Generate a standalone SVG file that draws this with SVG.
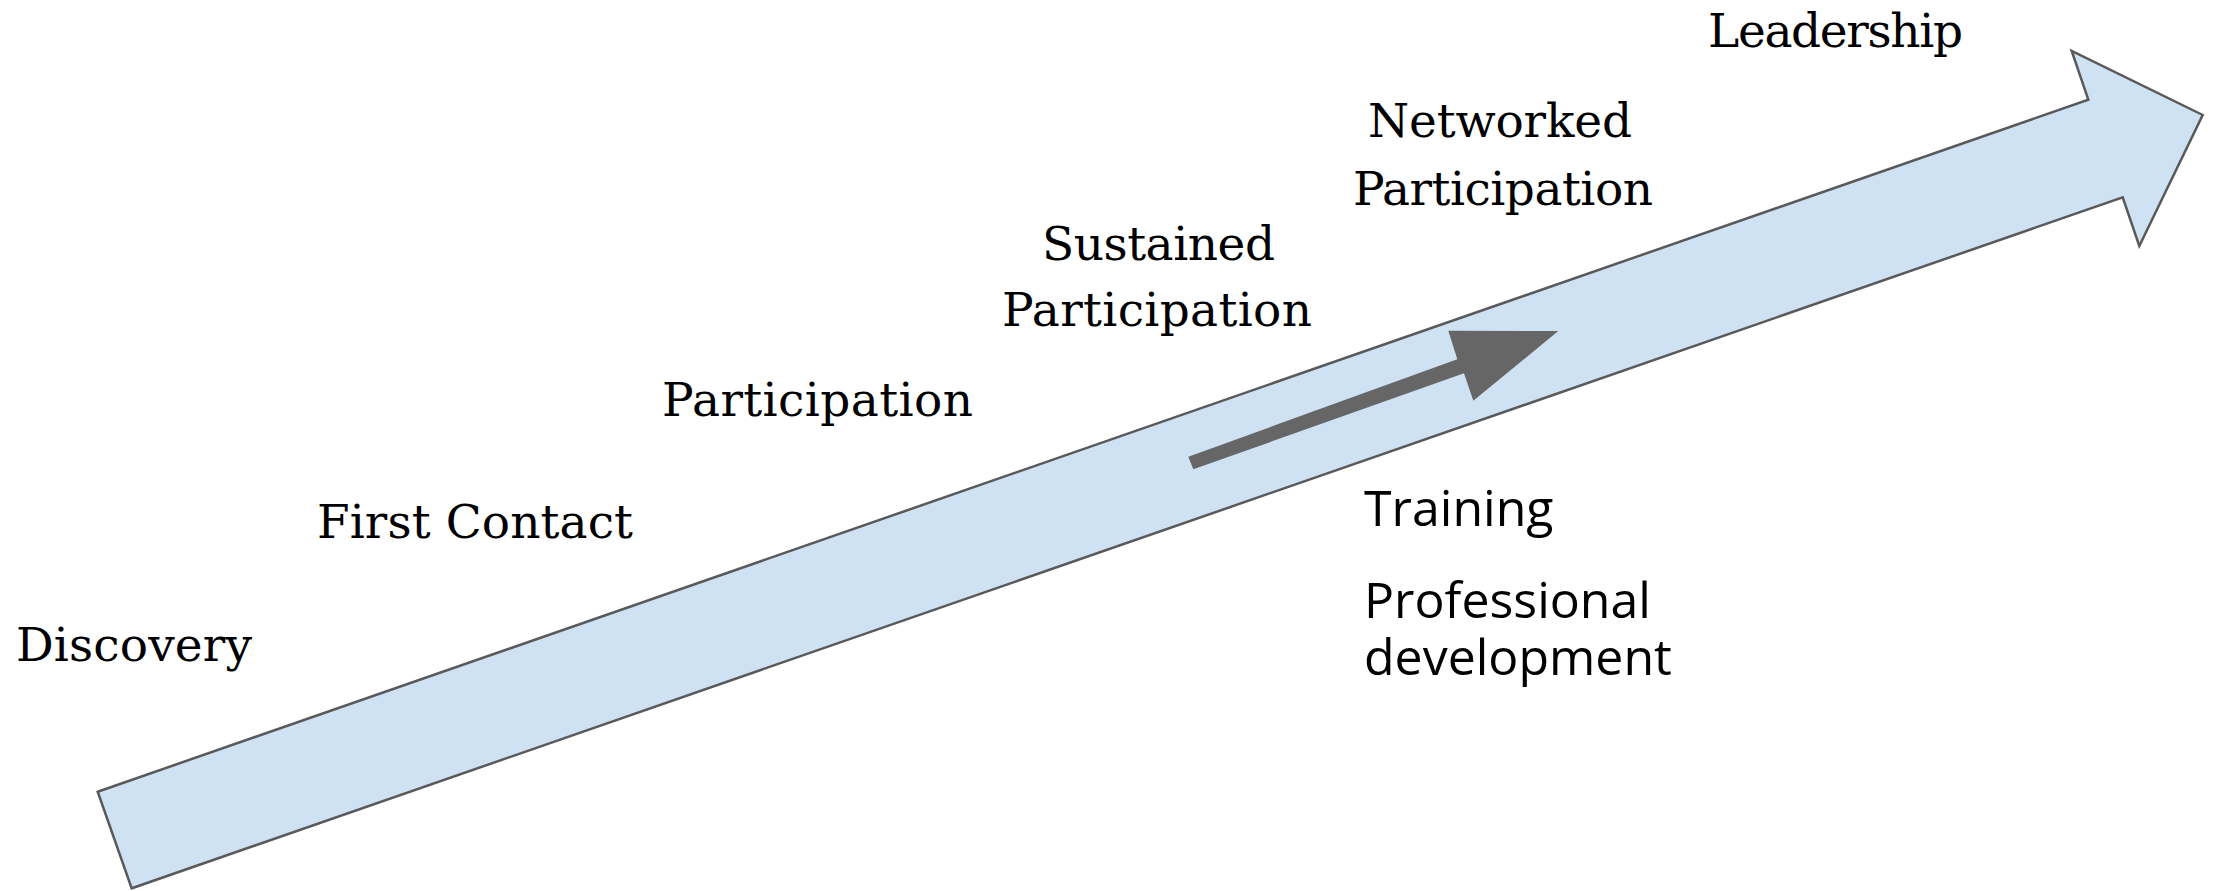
<svg xmlns="http://www.w3.org/2000/svg" width="2223" height="891" viewBox="0 0 2223 891">
<style>
.serif{font-family:"DejaVu Serif","Liberation Serif",serif;font-size:47px;fill:#000}
.sans{font-family:"Open Sans","Noto Sans","Liberation Sans",sans-serif;font-size:50px;fill:#000}
.big{fill:#cfe2f3;stroke:#595959;stroke-width:2.5;stroke-linejoin:miter}
.small{fill:#666666}
</style>
<rect width="2223" height="891" fill="#fff"/>
<g id="connectors">
<polygon id="main-arrow" class="big" points="97.7,791.7 2088.3,99.7 2071.7,51 2202.7,115 2139.3,246 2122.7,197.3 131.7,888.3"/>
<polygon id="inner-arrow" class="small" points="1188.3,456.7 1457.3,359.3 1448.3,330.7 1558.3,331 1473.3,400.7 1464,373.3 1193.3,469.3"/>
</g>
<g id="discovery"><text class="serif" x="16" y="661" textLength="236">Discovery</text></g>
<g id="first-contact"><text class="serif" x="317" y="538" textLength="316">First Contact</text></g>
<g id="participation"><text class="serif" x="662" y="416" textLength="311">Participation</text></g>
<g id="sustained-participation">
<text class="serif" x="1042" y="260" textLength="233">Sustained</text>
<text class="serif" x="1002" y="326" textLength="310">Participation</text>
</g>
<g id="networked-participation">
<text class="serif" x="1368" y="137" textLength="264">Networked</text>
<text class="serif" x="1353" y="205" textLength="300">Participation</text>
</g>
<g id="leadership"><text class="serif" x="1708" y="47" textLength="255">Leadership</text></g>
<g id="training"><text class="sans" x="1364" y="526">Training</text></g>
<g id="professional-development">
<text class="sans" x="1364" y="618">Professional</text>
<text class="sans" x="1364" y="675">development</text>
</g>
</svg>
